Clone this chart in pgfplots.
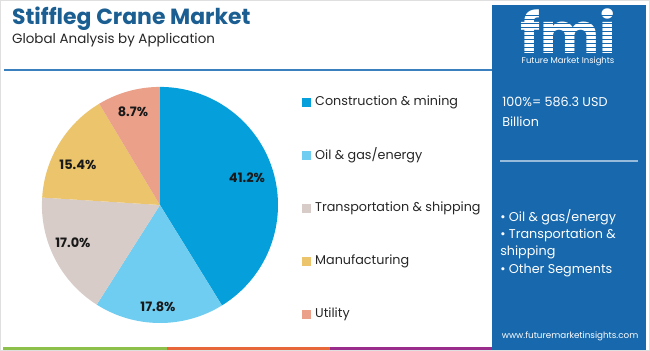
\documentclass[border=0pt]{standalone}
\usepackage{pgfplots}
\pgfplotsset{compat=1.18}
\usepackage{fontspec}
\setmainfont{Poppins}
\definecolor{titleblue}{HTML}{1B5E92}
\definecolor{panelblue}{HTML}{1768AD}
\definecolor{rule}{HTML}{3A80BF}
\definecolor{cA}{HTML}{05A0DB}
\definecolor{cB}{HTML}{6FCDF1}
\definecolor{cC}{HTML}{D8CCC8}
\definecolor{cD}{HTML}{EBC46C}
\definecolor{cE}{HTML}{EBA08A}
\definecolor{sgreen}{HTML}{8CC04B}
\definecolor{sorange}{HTML}{E8673A}
\definecolor{spurple}{HTML}{9A2D8C}
\begin{document}
\begin{tikzpicture}
\begin{axis}[scale only axis, width=650bp, height=351bp,
  xmin=0, xmax=650, ymin=0, ymax=351, hide axis, clip=false]
% frame
\draw[gray!25, line width=0.8bp] (axis cs:0.5,0.5) rectangle (axis cs:649.5,350.5);
% title
\node[anchor=base west, text=titleblue, font=\fontsize{22}{26}\selectfont\bfseries, inner sep=0pt] at (axis cs:12,326) {Stiffleg Crane Market};
\node[anchor=base west, text=black!85, font=\fontsize{13.5}{16}\selectfont, inner sep=0pt] at (axis cs:12,307) {Global Analysis by Application};
\draw[rule, line width=1.4bp] (axis cs:4,281) -- (axis cs:492,281);
% bottom stripes
\fill[sgreen] (axis cs:3,1) rectangle (axis cs:167,4);
\fill[sorange] (axis cs:167,1) rectangle (axis cs:330,4);
\fill[spurple] (axis cs:330,1) rectangle (axis cs:494,4);
% panel
\fill[panelblue] (axis cs:492,1) rectangle (axis cs:646,346);
% pie: Construction & mining 41.2, Oil & gas/energy 17.8, Transportation & shipping 17.0, Manufacturing 15.4, Utility 8.7
\fill[cA] (axis cs:160,146) -- ++(90:118bp) arc[start angle=90, delta angle={-3.6*41.2}, radius=118bp] -- cycle;
\fill[cB] (axis cs:160,146) -- ++({90-3.6*41.2}:118bp) arc[start angle={90-3.6*41.2}, delta angle={-3.6*17.8}, radius=118bp] -- cycle;
\fill[cC] (axis cs:160,146) -- ++({90-3.6*59.0}:118bp) arc[start angle={90-3.6*59.0}, delta angle={-3.6*17.0}, radius=118bp] -- cycle;
\fill[cD] (axis cs:160,146) -- ++({90-3.6*76.0}:118bp) arc[start angle={90-3.6*76.0}, delta angle={-3.6*15.4}, radius=118bp] -- cycle;
\fill[cE] (axis cs:160,146) -- ++({90-3.6*91.4}:118bp) arc[start angle={90-3.6*91.4}, delta angle={-3.6*8.6}, radius=118bp] -- cycle;
% pie labels
\begin{scope}[every node/.style={font=\fontsize{13}{15}\selectfont\bfseries, text=black!90}]
\node at (axis cs:247,173) {41.2\%};
\node at (axis cs:158,44) {17.8\%};
\node at (axis cs:73,108) {17.0\%};
\node at (axis cs:78,186) {15.4\%};
\node at (axis cs:133,239) {8.7\%};
\end{scope}
% legend
\begin{scope}[every node/.style={anchor=west, font=\fontsize{12.8}{15}\selectfont, text=black!85, inner sep=0pt}]
\fill[cA] (axis cs:302,244) rectangle (axis cs:311,253);
\node at (axis cs:315,248.5) {Construction \& mining};
\fill[cB] (axis cs:302,191) rectangle (axis cs:311,200);
\node at (axis cs:315,195.5) {Oil \& gas/energy};
\fill[cC] (axis cs:302,138) rectangle (axis cs:311,147);
\node at (axis cs:315,142.5) {Transportation \& shipping};
\fill[cD] (axis cs:302,85) rectangle (axis cs:311,94);
\node at (axis cs:315,89.5) {Manufacturing};
\fill[cE] (axis cs:302,32) rectangle (axis cs:311,41);
\node at (axis cs:315,36.5) {Utility};
\end{scope}
% logo
\node[anchor=base, text=white, font=\fontsize{56}{56}\selectfont\bfseries, inner sep=0pt, text depth=0pt, text height=40bp] at (axis cs:568,297) {fmi};
\pgfplotsinvokeforeach{299,303,307,311,315,319,323,327,331,335}{\draw[panelblue, line width=0.9bp] (axis cs:512,#1) -- (axis cs:625,#1);}
\node[anchor=base, text=white, font=\fontsize{8.5}{10}\selectfont, inner sep=0pt] at (axis cs:568,287) {Future Market Insights};
% panel text
\begin{scope}[every node/.style={anchor=base west, text=white, font=\fontsize{12.8}{15}\selectfont, inner sep=0pt}]
\node at (axis cs:502,244) {100\%= 586.3 USD};
\node at (axis cs:502,224) {Billion};
\node at (axis cs:500,129) {• Oil \& gas/energy};
\node at (axis cs:500,112) {• Transportation \&};
\node at (axis cs:500,95) {shipping};
\node at (axis cs:500,77) {• Other Segments};
\end{scope}
\draw[white!55!panelblue, line width=1.2bp] (axis cs:500,190) -- (axis cs:638,190);
\node[anchor=base, text=white, font=\fontsize{8.8}{10}\selectfont, inner sep=0pt] at (axis cs:570,13) {www.futuremarketinsights.com};
\end{axis}
\end{tikzpicture}
\end{document}
